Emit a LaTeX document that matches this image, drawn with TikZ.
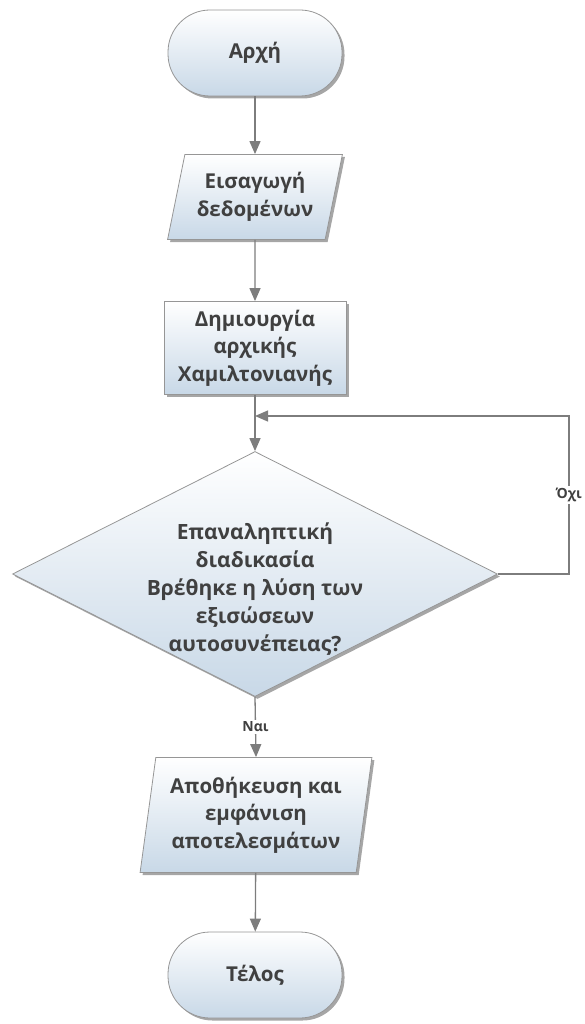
\documentclass[tikz,border=0pt]{standalone}
\usepackage{fontspec}
\setmainfont{Open Sans}
\usetikzlibrary{shapes.geometric,arrows.meta,shadows}
\definecolor{fb}{RGB}{200,216,231}
\definecolor{bd}{RGB}{150,150,150}
\definecolor{ar}{RGB}{125,125,125}
\definecolor{tx}{RGB}{64,64,64}
\begin{document}
\begin{tikzpicture}[x=1pt,y=-1pt,
  base/.style={draw=bd, line width=0.8pt, top color=white, bottom color=fb, text=tx,
    font=\fontsize{20.5}{27.5}\selectfont\bfseries, align=center, inner sep=0pt,
    drop shadow={shadow xshift=2.5pt, shadow yshift=-2.5pt, opacity=0.35, fill=black}},
  term/.style={base, rectangle, rounded corners=42pt, minimum width=174pt, minimum height=86pt},
  ioin/.style={base, trapezium, trapezium left angle=73.6, trapezium right angle=106.4,
    trapezium stretches=true, minimum width=175pt, minimum height=85pt},
  ioout/.style={base, trapezium, trapezium left angle=80, trapezium right angle=100,
    trapezium stretches=true, minimum width=232pt, minimum height=115pt},
  proc/.style={base, rectangle, minimum width=182pt, minimum height=93pt},
  dec/.style={base, diamond, minimum width=485pt, minimum height=245pt},
  dtext/.style={text=tx, font=\fontsize{21}{28}\selectfont\bfseries, align=center, inner sep=0pt},
  arr/.style={draw=ar, line width=1.3pt, -{Triangle[length=13pt,width=11pt]}},
  lbl/.style={fill=white, text=tx, font=\fontsize{14}{16}\selectfont\bfseries, inner sep=2pt}]
\useasboundingbox (0,0) rectangle (584,1024);
\node[term] (start) at (255,53) {Αρχή};
\node[ioin] (input) at (255,197) {Εισαγωγή\\δεδομένων};
\node[proc] (proc) at (255,348) {Δημιουργία\\αρχικής\\Χαμιλτονιανής};
\coordinate (join) at (255,416);
\node[dec] (dec) at (255,574) {};
\node[dtext] (dt) at (255,589) {Επαναληπτική\\διαδικασία\\Βρέθηκε η λύση των\\εξισώσεων\\αυτοσυνέπειας?};
\node[ioout] (output) at (256,815) {Αποθήκευση και\\εμφάνιση\\αποτελεσμάτων};
\node[term] (end) at (255,975) {Τέλος};
\draw[arr] (start) -- (input);
\draw[arr] (input) -- (proc);
\draw[arr] (proc) -- (dec);
\draw[arr] (dec.east) -- ++(71,0) -- node[lbl] {Όχι} ++(0,-158) -- (join);
\draw[arr] (dec.south) -- node[lbl] {Ναι} (output.north);
\draw[arr] (output) -- (end);
\end{tikzpicture}
\end{document}
